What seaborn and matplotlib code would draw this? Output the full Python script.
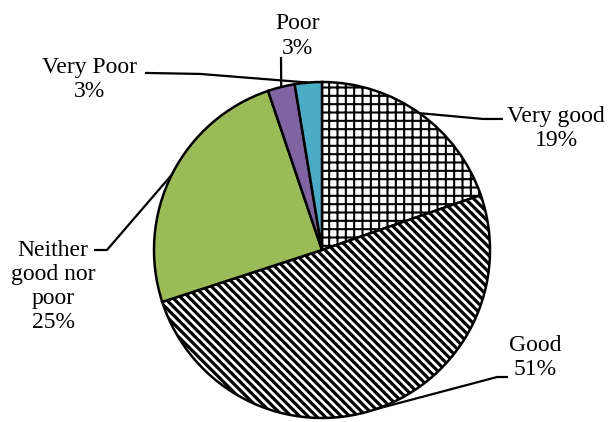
"""
Pie chart of rating shares (Very good ... Very Poor) with leader lines.
"""
import numpy as np
import matplotlib
matplotlib.use("Agg")
import matplotlib.pyplot as plt
import seaborn as sns

# Data
categories = ["Very good", "Good", "Neither good nor poor", "Poor", "Very Poor"]
shares = [19.7, 50.3, 24.8, 2.6, 2.6]
pct_labels = ["19%", "51%", "25%", "3%", "3%"]
label_text = ["Very good", "Good", "Neither\ngood nor\npoor", "Poor", "Very Poor"]

colors = ["white", "white", "#9BBB59", "#8064A2", "#4BACC6"]
hatches = ["++", "\\\\\\\\", None, None, None]

sns.set_theme(style="white")
plt.rcParams["font.family"] = ["Liberation Serif", "DejaVu Serif"]
plt.rcParams["hatch.color"] = "black"
plt.rcParams["hatch.linewidth"] = 1.5

fig = plt.figure(figsize=(6.09, 4.22), dpi=100)
ax = fig.add_axes([0, 0, 1, 1])

wedges, _ = ax.pie(shares, colors=colors, startangle=90, counterclock=False,
                   wedgeprops=dict(edgecolor="black", linewidth=1.8))
for w, h in zip(wedges, hatches):
    if h:
        w.set_hatch(h)
        if h.startswith("\\") and hasattr(w, "set_hatch_linewidth"):
            w.set_hatch_linewidth(2.3)

# axis limits so that the pie (radius 1) sits where it does in the reference
ax.set_xlim(-322 / 168, 287 / 168)
ax.set_ylim(-172 / 168, 250 / 168)
ax.set_aspect("auto")
ax.axis("off")

# label placement (layout only): elbow/end points of leaders and text centres
leaders = {
    "Very good": [(0.958, 0.780), (1.077, 0.780)],
    "Good": [(1.042, -0.756), (1.107, -0.756)],
    "Neither good nor poor": [(-1.280, 0.0), (-1.357, 0.0)],
    "Poor": [(-0.244, 1.149)],
    "Very Poor": [(-0.726, 1.048), (-1.054, 1.054)],
}
text_pos = {
    "Very good": (1.393, 0.723),
    "Good": (1.271, -0.640),
    "Neither good nor poor": (-1.601, -0.217),
    "Poor": (-0.143, 1.274),
    "Very Poor": (-1.384, 1.015),
}

for w, cat, lab, pct in zip(wedges, categories, label_text, pct_labels):
    mid = np.deg2rad((w.theta1 + w.theta2) / 2)
    start = (np.cos(mid), np.sin(mid))
    pts = [start] + leaders[cat]
    xs, ys = zip(*pts)
    ax.plot(xs, ys, color="black", lw=1.6, clip_on=False, solid_capstyle="butt")
    tx, ty = text_pos[cat]
    ax.text(tx, ty, f"{lab}\n{pct}", ha="center", va="center", fontsize=17,
            linespacing=1.2, color="black")

fig.savefig("out.png", dpi=100)
